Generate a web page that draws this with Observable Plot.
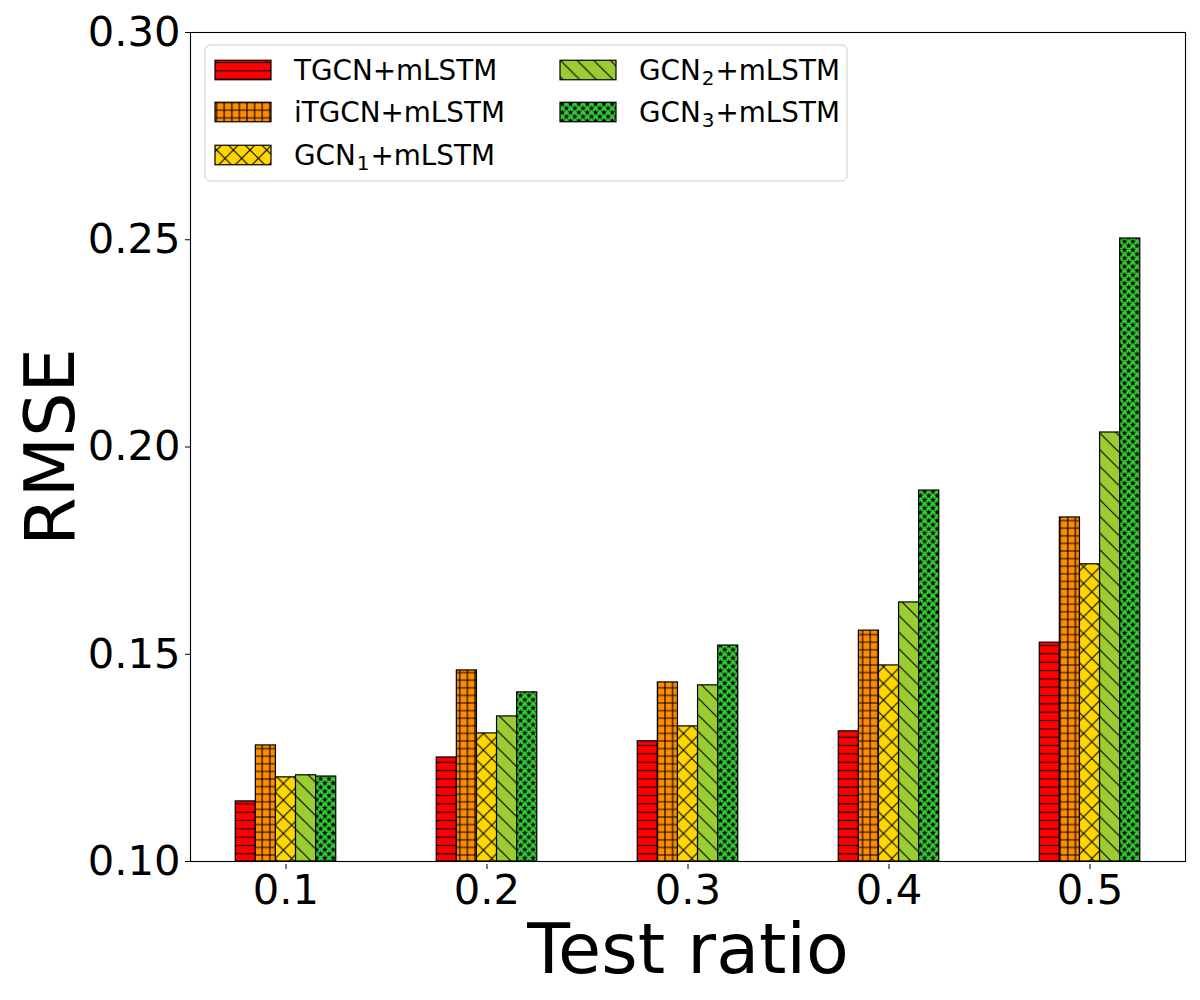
<!DOCTYPE html>
<html>
<head>
<meta charset="utf-8">
<script src="https://cdn.jsdelivr.net/npm/d3@7"></script>
<script src="https://cdn.jsdelivr.net/npm/@observablehq/plot@0.6"></script>
<style>
  html, body { margin: 0; padding: 0; background: white; }
  #chart { width: 1200px; height: 1000px; }
</style>
</head>
<body>
<div id="chart"></div>
<script>
// ---- data ----
const ratios = [0.1, 0.2, 0.3, 0.4, 0.5];
const yTicks = [0.10, 0.15, 0.20, 0.25, 0.30];
const legendBase = ["TGCN", "iTGCN", "GCN", "GCN", "GCN"];
const legendSub = ["", "", "1", "2", "3"];
const legendSuffix = "+mLSTM";
const tgcn  = [0.1145, 0.1251, 0.1290, 0.1314, 0.1528];
const itgcn = [0.1280, 0.1461, 0.1432, 0.1557, 0.1830];
const gcn1  = [0.1203, 0.1309, 0.1326, 0.1473, 0.1717];
const gcn2  = [0.1208, 0.1350, 0.1425, 0.1625, 0.2035];
const gcn3  = [0.1205, 0.1408, 0.1521, 0.1895, 0.2503];
const seriesValues = [tgcn, itgcn, gcn1, gcn2, gcn3];
const colors = ["#ff0000", "#ff8c00", "#ffd700", "#9acd32", "#32cd32"];

const barW = 0.01;
const nS = seriesValues.length;

const barMarks = seriesValues.map((vals, i) =>
  Plot.rectY(ratios.map((r, j) => ({r, v: vals[j]})), {
    x1: d => d.r + (i - nS / 2) * barW,
    x2: d => d.r + (i - nS / 2 + 1) * barW,
    y1: 0.10,
    y2: "v",
    fill: `url(#hatch${i})`,
    stroke: "black",
    strokeWidth: 1.2
  })
);

const chart = Plot.plot({
  width: 1200,
  height: 1000,
  marginLeft: 190,
  marginRight: 15,
  marginTop: 32,
  marginBottom: 139,
  style: {fontFamily: "'DejaVu Sans', sans-serif", color: "black", background: "white"},
  x: {type: "linear", domain: [0.0525, 0.5475]},
  y: {domain: [0.10, 0.30]},
  marks: [
    ...barMarks,
    Plot.frame({stroke: "black", strokeWidth: 1.1}),
    Plot.axisY({ticks: yTicks, tickFormat: d3.format(".2f"), fontSize: 41.7, tickSize: 5, tickPadding: 5, label: null}),
    Plot.axisX({ticks: ratios, tickFormat: d3.format(".1f"), fontSize: 41.7, tickSize: 5, tickPadding: 5, label: null, dy: 3}),
    Plot.text(["RMSE"], {text: d => d, frameAnchor: "left", dx: -139, rotate: -90, fontSize: 70, textAnchor: "middle", lineAnchor: "middle"}),
    Plot.text(["Test ratio"], {text: d => d, frameAnchor: "bottom", dy: 89, fontSize: 70, textAnchor: "middle", lineAnchor: "middle"})
  ]
});

document.getElementById("chart").appendChild(chart);

// ---- hatch patterns ----
const svg = d3.select(chart);
const defs = svg.insert("defs", ":first-child");
const hw = 1.1;
function pat(id, size, sizeH, fill) {
  const p = defs.append("pattern").attr("id", id).attr("patternUnits", "userSpaceOnUse")
    .attr("width", size).attr("height", sizeH);
  p.append("rect").attr("width", size).attr("height", sizeH).attr("fill", fill);
  return p;
}
// 0: horizontal lines
{
  const s = 8.33;
  const p = pat("hatch0", s, s, colors[0]);
  p.append("path").attr("d", `M0,${s/2}H${s}`).attr("stroke", "black").attr("stroke-width", hw);
}
// 1: grid
{
  const s = 7.6;
  const p = pat("hatch1", s, s, colors[1]);
  p.append("path").attr("d", `M0,${s/2}H${s}M${s/2},0V${s}`).attr("stroke", "black").attr("stroke-width", hw);
}
// 2: cross diagonals
{
  const s = 16.67;
  const p = pat("hatch2", s, s, colors[2]);
  p.append("path").attr("d", `M0,0L${s},${s}M${s},0L0,${s}M-2,2L2,-2M${s-2},${s+2}L${s+2},${s-2}M-2,${s-2}L2,${s+2}M${s-2},-2L${s+2},2`)
    .attr("stroke", "black").attr("stroke-width", hw);
}
// 3: backslash diagonals
{
  const s = 16.67;
  const p = pat("hatch3", s, s, colors[3]);
  p.append("path").attr("d", `M-1,-1L${s+1},${s+1}M-2,${s-2}L2,${s+2}M${s-2},-2L${s+2},2`)
    .attr("stroke", "black").attr("stroke-width", hw);
}
// 4: stars
{
  const s = 8.33;
  const p = pat("hatch4", s, s, colors[4]);
  const star = (cx, cy, R) => {
    const r = R * 0.42;
    let d = "";
    for (let k = 0; k < 10; k++) {
      const a = -Math.PI / 2 + k * Math.PI / 5;
      const rr = k % 2 === 0 ? R : r;
      d += (k === 0 ? "M" : "L") + (cx + rr * Math.cos(a)).toFixed(2) + "," + (cy + rr * Math.sin(a)).toFixed(2);
    }
    return d + "Z";
  };
  const R = 3.1;
  const pts = [[0, 0], [s, 0], [0, s], [s, s], [s/2, s/2]];
  p.append("path").attr("d", pts.map(([x, y]) => star(x, y, R)).join("")).attr("fill", "black");
}

// ---- legend ----
const lg = svg.append("g").attr("font-family", "'DejaVu Sans', sans-serif").attr("text-anchor", "start");
lg.append("rect").attr("x", 205).attr("y", 45).attr("width", 642).attr("height", 136)
  .attr("rx", 5).attr("fill", "white").attr("fill-opacity", 0.8).attr("stroke", "#cccccc").attr("stroke-width", 1);
const colX = [215, 560];
const textX = [294, 639];
const rowY = [70, 112, 155];
legendBase.forEach((base, i) => {
  const col = i < 3 ? 0 : 1;
  const row = i < 3 ? i : i - 3;
  const cy = rowY[row];
  lg.append("rect").attr("x", colX[col]).attr("y", cy - 9.75).attr("width", 56).attr("height", 19.5)
    .attr("fill", `url(#hatch${i})`).attr("stroke", "black").attr("stroke-width", 1.2);
  const t = lg.append("text").attr("x", textX[col]).attr("y", cy + 10).attr("font-size", 27.8)
    .attr("fill", "black").attr("text-anchor", "start");
  t.append("tspan").text(base);
  if (legendSub[i]) {
    t.append("tspan").attr("font-size", 20).attr("dy", 5).attr("dx", 1).text(legendSub[i]);
    t.append("tspan").attr("dy", -5).attr("dx", 1).text(legendSuffix);
  } else {
    t.append("tspan").text(legendSuffix);
  }
});
</script>
</body>
</html>
